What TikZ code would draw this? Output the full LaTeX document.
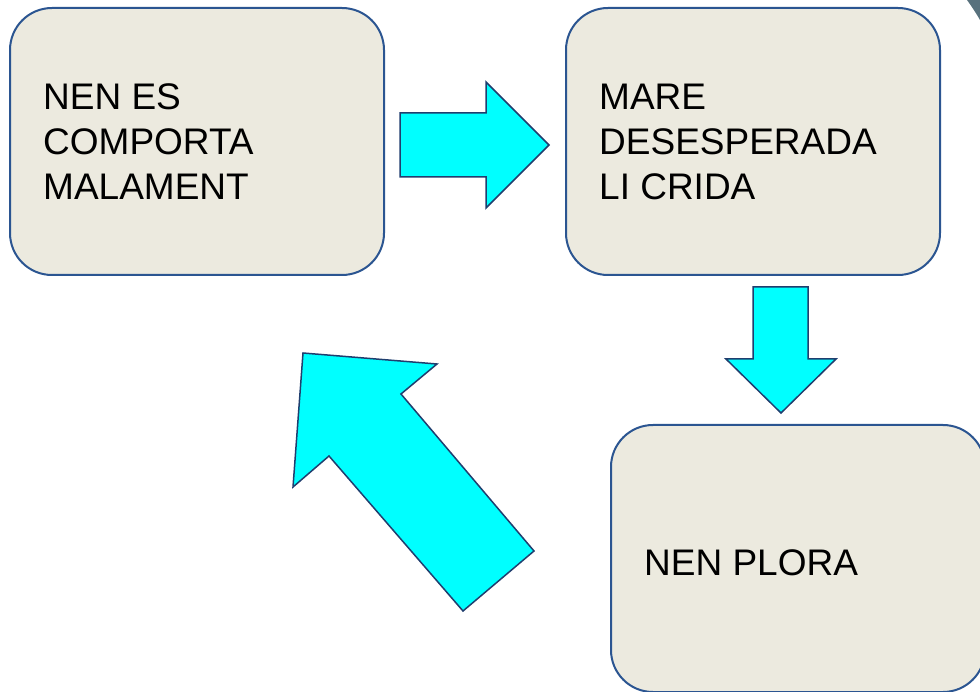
\documentclass[tikz,border=0pt]{standalone}
\usepackage{fontspec}
\setmainfont{Liberation Sans}
\definecolor{boxfill}{HTML}{ECEADF}
\definecolor{boxline}{HTML}{2B5591}
\definecolor{arrfill}{HTML}{00FFFF}
\definecolor{arrline}{HTML}{203E6E}
\definecolor{blob}{HTML}{2E4E5C}
\begin{document}
\begin{tikzpicture}[x=1pt,y=-1pt,
  box/.style={draw=boxline, line width=2pt, fill=boxfill, rounded corners=42pt,
    minimum width=374pt, minimum height=267pt, inner sep=0pt},
  txt/.style={font=\fontsize{37}{45}\selectfont, align=left, inner sep=0pt, anchor=base west},
  blockarrow/.style={draw=arrline, line width=1.5pt, fill=arrfill, line join=miter}]
\useasboundingbox (0,0) rectangle (980,692);
\clip (0,0) rectangle (980,692);
\node[box] (b1) at (197,141.5) {};
\node[box] (b2) at (753,141.5) {};
\node[box] (b3) at (798,558.5) {};
\node[txt] (t1) at (43,200) {NEN ES\\COMPORTA\\MALAMENT};
\node[txt] (t2) at (599,200) {MARE\\DESESPERADA\\LI CRIDA};
\node[txt] (t3) at (644,575) {NEN PLORA};
% right arrow
\draw[blockarrow] (400,113) -- (486,113) -- (486,82) -- (549,145) -- (486,208) -- (486,177) -- (400,177) -- cycle;
% down arrow
\draw[blockarrow] (753,287) -- (808,287) -- (808,359) -- (836,359) -- (781,413) -- (726,359) -- (753,359) -- cycle;
% diagonal arrow
\draw[blockarrow] (303,353) -- (437,364) -- (401,394) -- (534,551) -- (463,611) -- (329,456) -- (293,487) -- cycle;
% corner fragment
\fill[blob, opacity=0.8] (967,0) .. controls (972,7) and (976,13) .. (980,20) -- (980,0) -- cycle;
\end{tikzpicture}
\end{document}
